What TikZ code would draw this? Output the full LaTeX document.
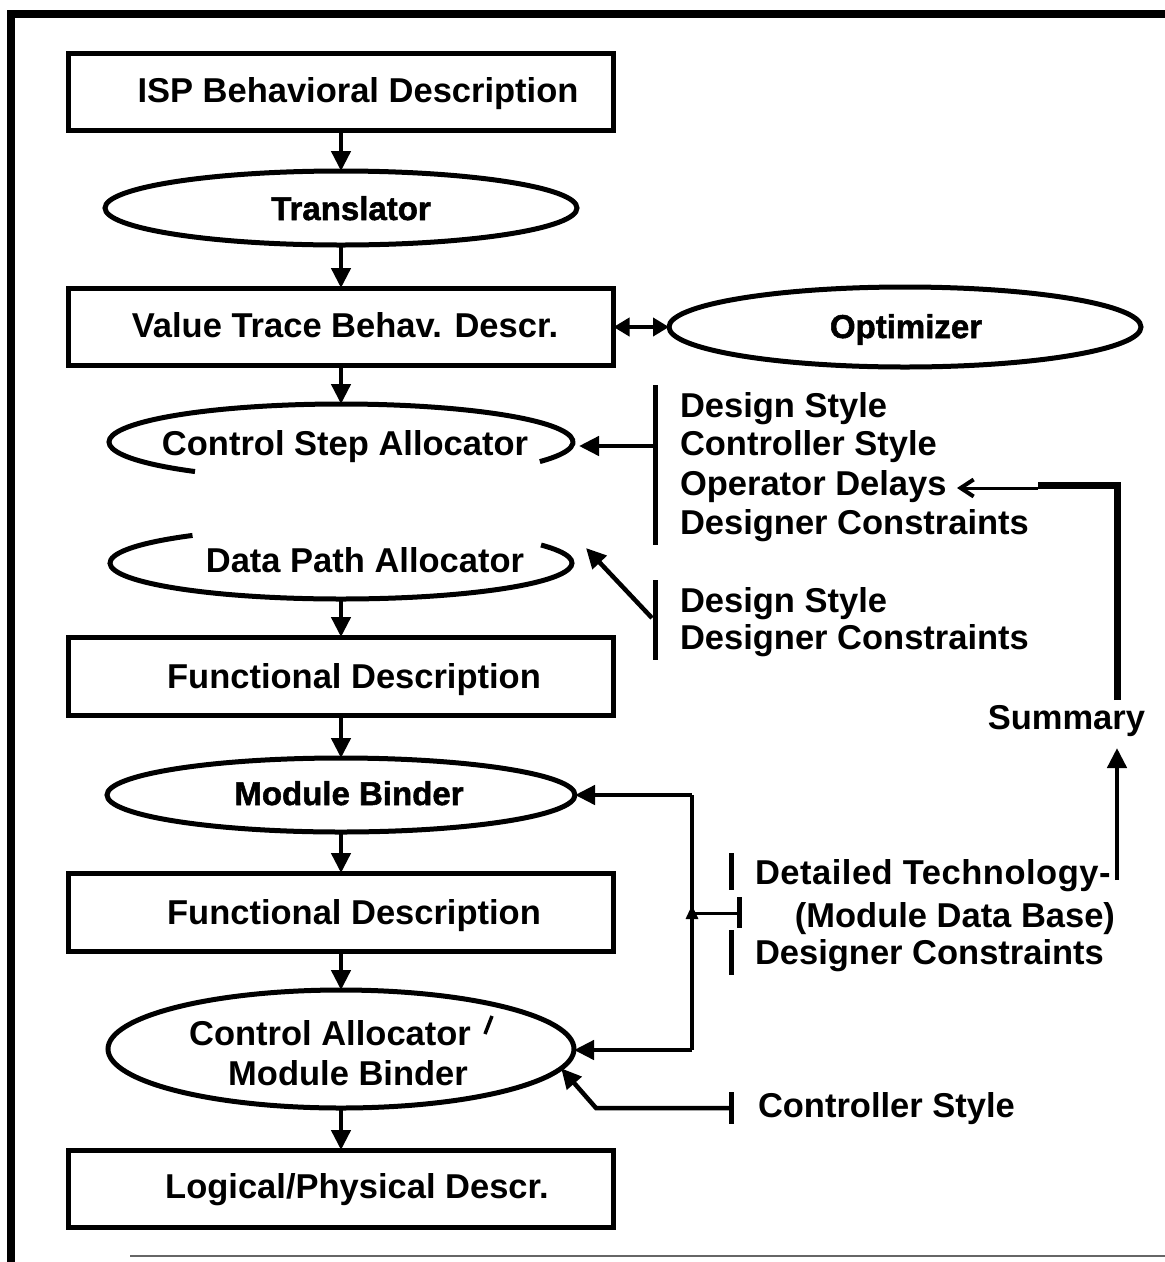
\documentclass[tikz,border=0pt]{standalone}
\usepackage{fontspec}
\setmainfont{Liberation Sans}
\newfontfamily\heavyfont{Liberation Sans}[BoldFeatures={FakeBold=1.6}]
\usetikzlibrary{shapes.geometric,arrows.meta}

\begin{document}
\begin{tikzpicture}[x=1pt,y=1pt,
  every node/.style={inner sep=0pt, outer sep=0pt},
  lbl/.style={font=\fontsize{34.5}{40}\selectfont\bfseries, anchor=base},
  lblw/.style={lbl, anchor=base west},
  hvy/.style={font=\heavyfont\bfseries\fontsize{33}{40}\selectfont, anchor=base},
  box/.style={draw, line width=5pt, minimum width=545pt, minimum height=77pt},
  ell/.style={ellipse, draw, line width=5pt},
  hollow/.style={ellipse, draw=none},
  rim/.style={line width=5pt},
  flow/.style={line width=4.5pt, -{Triangle[length=20pt,width=19pt]}},
  wire/.style={line width=4.5pt},
  bar/.style={line width=5pt},
  thin/.style={line width=3pt}
]
\useasboundingbox (0,0) rectangle (1165,-1262);

% outer frame
\draw[line width=8pt] (1165,-14) -- (11,-14) -- (11,-1262);
\draw[line width=2pt, black!60] (130,-1256) -- (1165,-1256);

% ---- main flow column ----
\node[box] (isp) at (341,-91.5) {};
\node[lbl] at (358,-102) {ISP Behavioral Description};

\node[ell, minimum width=472pt, minimum height=74pt] (tr) at (341,-208) {};
\node[hvy] at (351,-220) {Translator};

\node[box] (vt) at (341,-326.5) {};
\node[lbl] at (345,-337) {Value Trace Behav. Descr.};

\node[ell, minimum width=472pt, minimum height=80pt] (opt) at (905,-327) {};
\node[hvy] at (906,-338) {Optimizer};

% control step allocator: outline open along the bottom
\node[hollow, minimum width=464pt, minimum height=76pt] (csa) at (341,-442) {};
\draw[rim] ([shift={(-31:232pt and 38pt)}]csa.center)
  arc[start angle=-31, end angle=231, x radius=232pt, y radius=38pt];
\node[lbl] at (345,-455) {Control Step Allocator};

% data path allocator: outline open along the top
\node[hollow, minimum width=462pt, minimum height=72pt] (dpa) at (341,-563) {};
\draw[rim] ([shift={(130:231pt and 36pt)}]dpa.center)
  arc[start angle=130, end angle=390, x radius=231pt, y radius=36pt];
\node[lbl] at (365,-572) {Data Path Allocator};

\node[box, minimum height=78pt] (fd1) at (341,-676) {};
\node[lbl] at (354,-688) {Functional Description};

\node[ell, minimum width=468pt, minimum height=74pt] (mb) at (341,-795) {};
\node[hvy] at (349,-805) {Module Binder};

\node[box, minimum height=78pt] (fd2) at (341,-912) {};
\node[lbl] at (354,-924) {Functional Description};

\node[ell, minimum width=466pt, minimum height=118pt] (cam) at (341,-1049) {};
\node[lbl] at (330,-1045) {Control Allocator};
\node[lbl] at (348,-1085) {Module Binder};
\draw[line width=3.5pt] (485,-1034) -- (492,-1016);

\node[box] (lp) at (341,-1188.5) {};
\node[lbl] at (357,-1198) {Logical/Physical Descr.};

% downward flow
\draw[flow] (isp.south) -- (tr.north);
\draw[flow] (tr.south) -- (vt.north);
\draw[flow] (vt.south) -- (csa.north);
\draw[flow] (dpa.south) -- (fd1.north);
\draw[flow] (fd1.south) -- (mb.north);
\draw[flow] (mb.south) -- (fd2.north);
\draw[flow] (fd2.south) -- (cam.north);
\draw[flow] (cam.south) -- (lp.north);

% value trace <-> optimizer
\draw[line width=4.5pt, {Triangle[length=16pt,width=18pt]}-{Triangle[length=16pt,width=18pt]}]
  (vt.east |- opt.west) -- (opt.west);

% ---- inputs to the allocators ----
\coordinate (b1top) at (655,-385);
\coordinate (b1bot) at (655,-545);
\coordinate (b1out) at (655,-446);
\draw[bar] (b1top) -- (b1bot);
\draw[flow] (b1out) -- ([xshift=6pt]b1out -| csa.east);
\node[lblw] (ds1) at (680,-417) {Design Style};
\node[lblw] (cs1) at (680,-455) {Controller Style};
\node[lblw] (od1) at (680,-495) {Operator Delays};
\node[lblw] (dc1) at (680,-534) {Designer Constraints};

\coordinate (b2top) at (655,-580);
\coordinate (b2bot) at (655,-660);
\coordinate (b2out) at (652,-618);
\draw[bar] (b2top) -- (b2bot);
\draw[flow] (b2out) -- ([shift={(14,15)}]dpa.east);
\node[lblw] (ds2) at (680,-612) {Design Style};
\node[lblw] (dc2) at (680,-649) {Designer Constraints};

% ---- summary feedback ----
\node[lbl, anchor=base east] (sum) at (1145,-729) {Summary};
\coordinate (sumOut) at (1117,-700);
\coordinate (sumCorner) at (1117,-485);
\coordinate (sumJoin) at (1038,-485);
\coordinate (odTip) at (957,-488);
\draw[line width=7pt] (sumOut) -- (sumCorner) -- (sumJoin);
\draw[thin, -{Straight Barb[length=13pt,width=17pt,line width=4pt]}]
  (sumJoin |- odTip) -- (odTip);

\coordinate (dtEnd) at (1117,-880);
\coordinate (sumIn) at (1117,-748);
\draw[flow] (dtEnd) -- (sumIn);

% ---- module binder loop ----
\coordinate (loopTop) at (692,-795);
\coordinate (loopBot) at (692,-1050);
\draw[wire] (loopTop) -- (loopBot);
\draw[flow] (loopTop) -- (mb.east);
\draw[flow] (loopBot) -- (cam.east |- loopBot);

\coordinate (tapIn) at (739,-913);
\coordinate (tapOn) at (692,-913);
\draw[thin] (tapIn) -- (tapOn);
\draw[line width=3pt, -{Triangle[length=14pt,width=12pt]}] (692,-926) -- (692,-905);
\draw[bar] (731,-853) -- (731,-890);
\draw[bar] (739,-897) -- (739,-928);
\draw[bar] (731,-930) -- (731,-975);
\node[lblw, font=\fontsize{34.5}{40}\selectfont\bfseries\addfontfeature{LetterSpace=1.5}] (dt) at (755,-884) {Detailed Technology-};
\node[lbl, anchor=base east] (mdb) at (1115,-927) {(Module Data Base)};
\node[lblw] (dc3) at (755,-964) {Designer Constraints};

% ---- controller style into the lower allocator ----
\coordinate (csIn) at (731,-1108);
\coordinate (csBend) at (596,-1108);
\draw[bar] (731,-1092) -- (731,-1124);
\draw[flow] (csIn) -- (csBend) -- (cam.-5);
\node[lblw] (cs2) at (758,-1117) {Controller Style};
\end{tikzpicture}
\end{document}
